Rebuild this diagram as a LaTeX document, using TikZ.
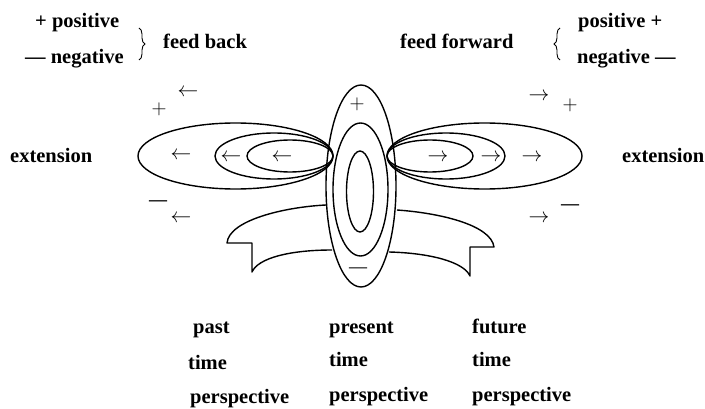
\documentclass[tikz,border=0pt]{standalone}
\usepackage{fontspec}
\setmainfont{Liberation Serif}
\usetikzlibrary{decorations.pathreplacing}
\tikzset{
  lbl/.style={inner sep=0pt, font=\fontsize{20.5}{24}\selectfont\bfseries},
  sym/.style={inner sep=0pt, text=black, font=\fontsize{20}{24}\selectfont},
  dashsym/.style={inner sep=0pt, font=\fontsize{18}{20}\selectfont\bfseries},
  outline/.style={line width=1.4pt, black},
  bracestyle/.style={line width=0.9pt, decorate, decoration={brace, amplitude=6pt}}
}
\begin{document}
\begin{tikzpicture}[x=1pt,y=-1pt]
\useasboundingbox (0,0) rectangle (705,409);
% ribbon
\draw[outline, line join=round] (326,205) .. controls (285,207) and (229,220) .. (227,243)
  -- (252,243) -- (252,272) .. controls (258,258) and (290,250) .. (332,250);
\draw[outline, line join=round] (397,210) .. controls (440,213) and (491,225) .. (494,247)
  -- (470,247) -- (470,276) .. controls (464,262) and (430,253) .. (389,252);
% central vertical ellipses
\draw[outline] (361,186) ellipse [x radius=35, y radius=101];
\draw[outline] (360.5,189.5) ellipse [x radius=27.5, y radius=66.5];
\draw[outline] (360,191.5) ellipse [x radius=13.5, y radius=40.5];
% left ellipses
\draw[outline] (235.5,156) ellipse [x radius=97.5, y radius=33];
\draw[outline] (274,156) ellipse [x radius=59, y radius=23];
\draw[outline] (290,156) ellipse [x radius=43, y radius=16];
% right ellipses
\draw[outline] (484.5,156) ellipse [x radius=97.5, y radius=33];
\draw[outline] (446,156) ellipse [x radius=59, y radius=23];
\draw[outline] (430,156) ellipse [x radius=43, y radius=16];
% arrows inside
\node[sym] (la1) at (181,156) {$\leftarrow$};
\node[sym] (la2) at (231,158) {$\leftarrow$};
\node[sym] (la3) at (282,158) {$\leftarrow$};
\node[sym] (ra1) at (438,158) {$\rightarrow$};
\node[sym] (ra2) at (491,158) {$\rightarrow$};
\node[sym] (ra3) at (532,158) {$\rightarrow$};
% side symbols
\node[sym] (lta) at (188,93) {$\leftarrow$};
\node[sym] (ltp) at (159,109) {$+$};
\node[sym] (lba) at (181,219) {$\leftarrow$};
\node[dashsym] (lbm) at (158,203) {—};
\node[sym] (rta) at (539,97) {$\rightarrow$};
\node[sym] (rtp) at (570,105) {$+$};
\node[sym] (rba) at (539,219) {$\rightarrow$};
\node[dashsym] (rbm) at (570,207) {—};
% central symbols
\node[sym] (cp) at (357,104) {$+$};
\node[dashsym, text=black!80] (cm) at (358,270) {—};
% top labels
\node[lbl, anchor=base west] (pos) at (35,28) {+ positive};
\node[lbl, anchor=base west] (neg) at (25,64) {— negative};
\draw[bracestyle] (139,28) -- (139,60);
\node[lbl, anchor=base west] (fb) at (163,49) {feed back};
\node[lbl, anchor=base west] (ff) at (400,49) {feed forward};
\draw[bracestyle] (560,60) -- (560,28);
\node[lbl, anchor=base west] (pos2) at (578,28) {positive +};
\node[lbl, anchor=base west] (neg2) at (577,64) {negative —};
% extension
\node[lbl, anchor=base west] (extl) at (10,163) {extension};
\node[lbl, anchor=base west] (extr) at (622,163) {extension};
% bottom labels
\node[lbl, anchor=base west] (past) at (193,334) {past};
\node[lbl, anchor=base west] (time1) at (188,369) {time};
\node[lbl, anchor=base west] (persp1) at (190,403) {perspective};
\node[lbl, anchor=base west] (pres) at (329,333) {present};
\node[lbl, anchor=base west] (time2) at (329,366) {time};
\node[lbl, anchor=base west] (persp2) at (329,401) {perspective};
\node[lbl, anchor=base west] (fut) at (472,333) {future};
\node[lbl, anchor=base west] (time3) at (472,366) {time};
\node[lbl, anchor=base west] (persp3) at (472,401) {perspective};
\end{tikzpicture}
\end{document}
